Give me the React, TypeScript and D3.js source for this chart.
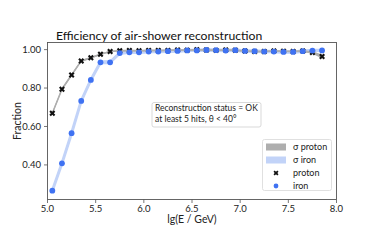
import React from "react";
import * as d3 from "d3";

const lgE = [5.05, 5.15, 5.25, 5.35, 5.45, 5.55, 5.65, 5.75, 5.85, 5.95, 6.05, 6.15, 6.25, 6.35, 6.45, 6.55, 6.65, 6.75, 6.85, 6.95, 7.05, 7.15, 7.25, 7.35, 7.45, 7.55, 7.65, 7.75, 7.85];
const proton = [0.669, 0.794, 0.868, 0.941, 0.958, 0.976, 0.99, 0.994, 0.995, 0.994, 0.996, 0.995, 0.996, 0.998, 0.997, 0.999, 0.998, 0.996, 0.998, 0.997, 0.993, 0.99, 0.99, 0.993, 0.991, 0.99, 0.993, 0.985, 0.964];
const protonSigma = [0.008, 0.007, 0.006, 0.005, 0.005, 0.004, 0.004, 0.004, 0.004, 0.004, 0.004, 0.004, 0.004, 0.004, 0.004, 0.004, 0.004, 0.004, 0.004, 0.004, 0.004, 0.004, 0.004, 0.004, 0.004, 0.004, 0.005, 0.007, 0.01];
const iron = [0.266, 0.408, 0.565, 0.733, 0.842, 0.934, 0.934, 0.982, 0.986, 0.986, 0.99, 0.99, 0.992, 0.993, 0.996, 0.996, 0.998, 0.997, 0.995, 0.997, 0.993, 0.992, 0.99, 0.99, 0.988, 0.988, 0.992, 0.995, 0.996];
const ironSigma = [0.012, 0.012, 0.012, 0.012, 0.012, 0.01, 0.01, 0.009, 0.009, 0.009, 0.009, 0.009, 0.009, 0.009, 0.009, 0.009, 0.009, 0.009, 0.009, 0.009, 0.009, 0.009, 0.009, 0.009, 0.009, 0.009, 0.009, 0.009, 0.009];
const xTicks = [5.0, 5.5, 6.0, 6.5, 7.0, 7.5, 8.0];
const yTicks = [0.4, 0.6, 0.8, 1.0];
const legendLabels = ["σ proton", "σ iron", "proton", "iron"];
const noteLines = ["Reconstruction status = OK", "at least 5 hits, θ < 40°"];

const FONT = "Lato, 'Open Sans', sans-serif";
const C_PBAND = "#aeaeae";
const C_IBAND = "#c2d3f8";
const C_IRON = "#3f72f2";

export default function App() {
  const L = 47.5, R = 336.5, T = 42.5, B = 199.5;
  const x = d3.scaleLinear().domain([5.0, 8.0]).range([L, R]);
  const y = d3.scaleLinear().domain([0.22, 1.037]).range([B, T]);

  const band = (vals: number[], sig: number[]) =>
    d3.area<number>()
      .x((_, i) => x(lgE[i]))
      .y0((v, i) => y(v - sig[i]))
      .y1((v, i) => y(v + sig[i]))(vals) || "";
  const line = (vals: number[]) =>
    d3.line<number>().x((_, i) => x(lgE[i])).y((v) => y(v))(vals) || "";

  const xMark = d3.symbol().type(d3.symbolCross).size(22)() || "";

  return (
    <svg width={374} height={240} style={{ position: "absolute", left: 0, top: 0, background: "#fff" }} fontFamily={FONT}>
      <text x={56} y={40} fontSize={12.2} fill="#111">Efficiency of air-shower reconstruction</text>

      <path d={band(iron, ironSigma)} fill={C_IBAND} />
      <path d={line(iron)} fill="none" stroke={C_IBAND} strokeWidth={3} />
      <path d={band(proton, protonSigma)} fill={C_PBAND} />
      <path d={line(proton)} fill="none" stroke={C_PBAND} strokeWidth={1.5} />

      {proton.map((v, i) => (
        <path key={"p" + i} d={xMark} transform={`translate(${x(lgE[i])},${y(v)}) rotate(45)`} fill="#111" />
      ))}
      {iron.map((v, i) => (
        <circle key={"i" + i} cx={x(lgE[i])} cy={y(v)} r={2.9} fill={C_IRON} />
      ))}

      <rect x={L} y={T} width={R - L} height={B - T} fill="none" stroke="#555" strokeWidth={0.9} />

      {xTicks.map((t) => (
        <g key={"x" + t}>
          <line x1={x(t)} x2={x(t)} y1={B} y2={B + 3.5} stroke="#555" strokeWidth={0.8} />
          <text x={x(t)} y={211.5} fontSize={9.5} textAnchor="middle" fill="#222">{t.toFixed(1)}</text>
        </g>
      ))}
      {yTicks.map((t) => (
        <g key={"y" + t}>
          <line x1={L - 3.5} x2={L} y1={y(t)} y2={y(t)} stroke="#555" strokeWidth={0.8} />
          <text x={41} y={y(t) + 3.3} fontSize={9.5} textAnchor="end" fill="#222">{t.toFixed(2)}</text>
        </g>
      ))}

      <text x={(L + R) / 2} y={223} fontSize={10.5} textAnchor="middle" fill="#222">lg(E / GeV)</text>
      <text transform={`translate(21,${(T + B) / 2}) rotate(-90)`} fontSize={10.5} textAnchor="middle" fill="#222">Fraction</text>

      <rect x={152} y={102.5} width={109} height={24.5} rx={2} fill="#fff" stroke="#cfcfcf" strokeWidth={0.8} />
      {noteLines.map((s, i) => (
        <text key={s} x={155} y={110.8 + i * 11.5} fontSize={8.5} fill="#222">{s}</text>
      ))}

      <rect x={262.5} y={139.5} width={69} height={51} rx={2} fill="#fff" stroke="#d8d8d8" strokeWidth={0.8} />
      <rect x={266} y={143.5} width={20} height={7} fill={C_PBAND} />
      <rect x={266} y={156.5} width={20} height={7} fill={C_IBAND} />
      <path d={d3.symbol().type(d3.symbolCross).size(16)() || ""} transform="translate(276,173) rotate(45)" fill="#111" />
      <circle cx={276} cy={186} r={2.4} fill={C_IRON} />
      {legendLabels.map((s, i) => (
        <text key={s} x={293} y={150 + i * 13} fontSize={9} fill="#222">{s}</text>
      ))}
    </svg>
  );
}
